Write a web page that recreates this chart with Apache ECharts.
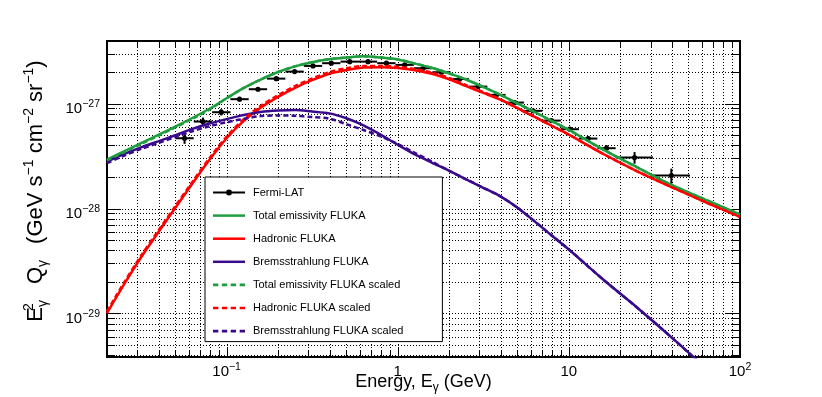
<!DOCTYPE html>
<html>
<head>
<meta charset="utf-8">
<script src="https://cdn.jsdelivr.net/npm/echarts@6/dist/echarts.min.js"></script>
<style>
  html, body { margin: 0; padding: 0; background: #fff; }
  #chart { width: 822px; height: 397px; }
</style>
</head>
<body>
<div id="chart"></div>
<script>
const FONT = '"Liberation Sans", Arial, Helvetica, sans-serif';

// energy grid of the model curves (GeV)
const energy = [0.02, 0.0251, 0.0316, 0.0398, 0.0501, 0.0631, 0.0794, 0.1, 0.126, 0.158,
  0.2, 0.251, 0.316, 0.398, 0.501, 0.631, 0.794, 1, 1.26, 1.58,
  2.0, 2.51, 3.16, 3.98, 5.01, 6.31, 7.94, 10, 15.8, 25.1, 39.8, 63.1, 100];

// E^2 Q (GeV s^-1 cm^-2 sr^-1)
const totalFluka = [2.931e-28, 3.499e-28, 4.198e-28, 5.023e-28, 6.039e-28, 7.295e-28, 8.933e-28, 1.125e-27, 1.41e-27, 1.694e-27,
  2.000e-27, 2.265e-27, 2.483e-27, 2.649e-27, 2.748e-27, 2.825e-27, 2.748e-27, 2.636e-27, 2.404e-27, 2.198e-27,
  1.936e-27, 1.698e-27, 1.439e-27, 1.213e-27, 1.005e-27, 8.318e-28, 6.823e-28, 5.610e-28, 3.664e-28, 2.466e-28, 1.679e-28, 1.211e-28, 8.79e-29];
const hadronicFluka = [1.009e-29, 1.884e-29, 3.420e-29, 5.902e-29, 1.014e-28, 1.730e-28, 2.911e-28, 4.677e-28, 6.839e-28, 9.141e-28,
  1.161e-27, 1.416e-27, 1.671e-27, 1.923e-27, 2.094e-27, 2.203e-27, 2.223e-27, 2.183e-27, 2.080e-27, 1.923e-27,
  1.706e-27, 1.469e-27, 1.265e-27, 1.089e-27, 9.036e-28, 7.482e-28, 6.152e-28, 5.058e-28, 3.327e-28, 2.265e-28, 1.603e-28, 1.148e-28, 8.318e-29];
const bremsFluka = [2.799e-28, 3.296e-28, 3.828e-28, 4.365e-28, 4.989e-28, 5.741e-28, 6.457e-28, 7.112e-28, 7.780e-28, 8.318e-28,
  8.590e-28, 8.710e-28, 8.414e-28, 8.072e-28, 7.244e-28, 6.194e-28, 5.058e-28, 4.055e-28, 3.281e-28, 2.742e-28,
  2.291e-28, 1.901e-28, 1.578e-28, 1.306e-28, 1.019e-28, 7.551e-29, 5.534e-29, 4.074e-29, 2.118e-29, 1.135e-29, 5.916e-30, 3.013e-30, 1.531e-30];
const totalScaled = [2.878e-28, 3.436e-28, 4.122e-28, 4.933e-28, 5.930e-28, 7.164e-28, 8.772e-28, 1.125e-27, 1.41e-27, 1.694e-27,
  2.000e-27, 2.265e-27, 2.483e-27, 2.649e-27, 2.748e-27, 2.825e-27, 2.748e-27, 2.636e-27, 2.404e-27, 2.198e-27,
  1.936e-27, 1.698e-27, 1.439e-27, 1.213e-27, 1.005e-27, 8.318e-28, 6.823e-28, 5.610e-28, 3.664e-28, 2.466e-28, 1.679e-28, 1.211e-28, 8.79e-29];
const hadronicScaled = [1.047e-29, 1.955e-29, 3.548e-29, 6.123e-29, 1.052e-28, 1.795e-28, 3.020e-28, 4.852e-28, 7.095e-28, 9.484e-28,
  1.205e-27, 1.469e-27, 1.734e-27, 1.995e-27, 2.173e-27, 2.286e-27, 2.285e-27, 2.244e-27, 2.138e-27, 1.977e-27,
  1.754e-27, 1.497e-27, 1.289e-27, 1.099e-27, 9.036e-28, 7.482e-28, 6.152e-28, 5.058e-28, 3.327e-28, 2.265e-28, 1.603e-28, 1.148e-28, 8.318e-29];
const bremsScaled = [2.704e-28, 3.184e-28, 3.698e-28, 4.207e-28, 4.797e-28, 5.458e-28, 6.081e-28, 6.653e-28, 7.161e-28, 7.6e-28,
  7.7e-28, 7.65e-28, 7.45e-28, 7.2e-28, 6.368e-28, 5.598e-28, 4.875e-28, 4.121e-28, 3.388e-28, 2.805e-28,
  2.291e-28, 1.901e-28, 1.578e-28, 1.306e-28, 1.019e-28, 7.551e-29, 5.534e-29, 4.074e-29, 2.118e-29, 1.135e-29, 5.916e-30, 3.013e-30, 1.531e-30];

// Fermi-LAT points: bin centre, bin edges, value, error
const fermiE = [0.0568, 0.0727, 0.0931, 0.119, 0.1525, 0.195, 0.2497, 0.3197, 0.409, 0.524, 0.670, 0.858, 1.098,
  1.406, 1.80, 2.30, 2.95, 3.77, 4.83, 6.18, 7.91, 10.13, 12.97, 16.6, 24.2, 39.7];
const fermiElo = [0.0502, 0.0643, 0.0823, 0.1052, 0.1348, 0.1724, 0.2208, 0.2827, 0.3616, 0.4633, 0.5924, 0.7586, 0.9708,
  1.243, 1.592, 2.034, 2.608, 3.333, 4.271, 5.464, 6.994, 8.957, 11.47, 14.68, 18.8, 31.0];
const fermiEhi = [0.0642, 0.0822, 0.1053, 0.1346, 0.1725, 0.2205, 0.2824, 0.3616, 0.4626, 0.5926, 0.7578, 0.9704, 1.242,
  1.590, 2.036, 2.601, 3.336, 4.264, 5.463, 6.990, 8.946, 11.46, 14.67, 18.77, 31.0, 51.0];
const fermiQ = [4.677e-28, 6.745e-28, 8.279e-28, 1.102e-27, 1.371e-27, 1.730e-27, 2.018e-27, 2.286e-27, 2.427e-27, 2.512e-27,
  2.512e-27, 2.427e-27, 2.339e-27, 2.173e-27, 1.991e-27, 1.718e-27, 1.452e-27, 1.211e-27, 1.023e-27, 8.531e-28,
  6.887e-28, 5.702e-28, 4.645e-28, 3.758e-28, 3.062e-28, 2.061e-28];
const fermiErr = [0.54e-28, 0.62e-28, 0.56e-28, 0.50e-28, 0.45e-28, 0.57e-28, 0.67e-28, 0.75e-28, 0.80e-28, 0.83e-28,
  0.83e-28, 0.80e-28, 0.77e-28, 0.72e-28, 0.66e-28, 0.57e-28, 0.48e-28, 0.40e-28, 0.34e-28, 0.28e-28,
  0.23e-28, 0.26e-28, 0.26e-28, 0.26e-28, 0.39e-28, 0.34e-28];

// grid / tick positions
const xGrid = [0.03, 0.04, 0.05, 0.06, 0.07, 0.08, 0.09,
  0.1, 0.2, 0.3, 0.4, 0.5, 0.6, 0.7, 0.8, 0.9,
  1, 2, 3, 4, 5, 6, 7, 8, 9,
  10, 20, 30, 40, 50, 60, 70, 80, 90];
const yGrid = [4e-30, 5e-30, 6e-30, 7e-30, 8e-30, 9e-30,
  1e-29, 2e-29, 3e-29, 4e-29, 5e-29, 6e-29, 7e-29, 8e-29, 9e-29,
  1e-28, 2e-28, 3e-28, 4e-28, 5e-28, 6e-28, 7e-28, 8e-28, 9e-28,
  1e-27, 2e-27, 3e-27];

const X_MIN = 0.02, X_MAX = 100, Y_MIN = 3.85e-30, Y_MAX = 3.95e-27;

function isDecade(v) {
    let p = Math.log10(v);
    return Math.abs(p - Math.round(p)) < 1e-6;
}

function powLabel(v, oneAndTen) {
    if (!(v > 0)) return '';
    let p = Math.log10(v), n = Math.round(p);
    if (!isFinite(p) || Math.abs(p - n) > 1e-6) return '';
    if (oneAndTen && n === 0) return '{b|1}';
    if (oneAndTen && n === 1) return '{b|10}';
    return '{b|10}{s|' + (n < 0 ? '\u2212' + (-n) : n) + '}';
}

const labelRich = {
    b: { fontSize: 15, lineHeight: 20, color: '#000', fontFamily: FONT, verticalAlign: 'middle' },
    s: { fontSize: 10.5, lineHeight: 11, color: '#000', fontFamily: FONT, verticalAlign: 'top' }
};

function renderXGrid(params, api) {
    let cs = params.coordSys;
    let x = Math.round(api.coord([api.value(0), Y_MIN])[0]) + 0.5;
    let len = isDecade(api.value(0)) ? 10 : 6;
    let top = cs.y, bottom = cs.y + cs.height;
    return {
        type: 'group',
        children: [
            { type: 'line', shape: { x1: x, y1: top, x2: x, y2: bottom }, style: { stroke: '#000', lineWidth: 1, lineDash: [1, 2] } },
            { type: 'line', shape: { x1: x, y1: bottom, x2: x, y2: bottom - len }, style: { stroke: '#000', lineWidth: 1 } },
            { type: 'line', shape: { x1: x, y1: top, x2: x, y2: top + len }, style: { stroke: '#000', lineWidth: 1 } }
        ]
    };
}

function renderYGrid(params, api) {
    let cs = params.coordSys;
    let y = Math.round(api.coord([X_MIN, api.value(1)])[1]) + 0.5;
    let len = isDecade(api.value(1)) ? 14 : 8;
    let left = cs.x, right = cs.x + cs.width;
    return {
        type: 'group',
        children: [
            { type: 'line', shape: { x1: left, y1: y, x2: right, y2: y }, style: { stroke: '#000', lineWidth: 1, lineDash: [1, 2] } },
            { type: 'line', shape: { x1: left, y1: y, x2: left + len, y2: y }, style: { stroke: '#000', lineWidth: 1 } },
            { type: 'line', shape: { x1: right, y1: y, x2: right - len, y2: y }, style: { stroke: '#000', lineWidth: 1 } }
        ]
    };
}

function renderFermi(params, api) {
    let e = api.value(0), q = api.value(1), err = api.value(4);
    let c = api.coord([e, q]);
    let lo = api.coord([api.value(2), q]);
    let hi = api.coord([api.value(3), q]);
    let qlo = api.coord([e, q - err]);
    let qhi = api.coord([e, q + err]);
    let st = { stroke: '#000', lineWidth: 2 };
    return {
        type: 'group',
        children: [
            { type: 'line', shape: { x1: lo[0], y1: c[1], x2: hi[0], y2: c[1] }, style: st },
            { type: 'line', shape: { x1: c[0], y1: qlo[1], x2: c[0], y2: qhi[1] }, style: st },
            { type: 'circle', shape: { cx: c[0], cy: c[1], r: 2.6 }, style: { fill: '#000' } }
        ]
    };
}

function curve(name, vals, color, dashed) {
    return {
        name: name,
        type: 'line',
        data: energy.map((e, i) => [e, vals[i]]),
        showSymbol: false,
        symbol: 'none',
        smooth: 0.3,
        clip: true,
        silent: true,
        z: dashed ? 4 : 3,
        itemStyle: { color: color },
        lineStyle: { color: color, width: 2.5, type: dashed ? [5, 3] : 'solid' }
    };
}

const GREEN = '#1f9e3f', RED = '#ff0000', PURPLE = '#3a0a8c';
const fermiIcon = 'path://M0,2L13,2L13,4L0,4Z M19,2L32,2L32,4L19,4Z M13,3A3,3 0 1,1 19,3A3,3 0 1,1 13,3Z';
const solidIcon = 'path://M0,0L32,0L32,2.5L0,2.5Z';
const dashIcon = 'path://M0,0h5v2.5h-5Z M8.3,0h5v2.5h-5Z M16.6,0h5v2.5h-5Z M25,0h5v2.5h-5Z';

let chart = echarts.init(document.getElementById('chart'), null, { renderer: 'canvas' });
let options = {
    animation: false,
    backgroundColor: '#fff',
    textStyle: { fontFamily: FONT },
    grid: {
        left: 107, right: 82, top: 41, bottom: 40,
        show: true, borderColor: '#000', borderWidth: 2,
        outerBoundsMode: 'none', containLabel: false
    },
    legend: {
        orient: 'vertical',
        left: 205, top: 177,
        padding: [10, 39, 5, 8],
        itemWidth: 32, itemHeight: 14, itemGap: 12.1,
        backgroundColor: '#fff', borderColor: '#000', borderWidth: 1,
        selectedMode: false,
        textStyle: { fontSize: 11, color: '#000', fontFamily: FONT, padding: [0, 0, 0, 3] },
        data: [
            { name: 'Fermi-LAT', icon: fermiIcon, itemStyle: { color: '#000' } },
            { name: 'Total emissivity FLUKA', icon: solidIcon, itemStyle: { color: GREEN } },
            { name: 'Hadronic FLUKA', icon: solidIcon, itemStyle: { color: RED } },
            { name: 'Bremsstrahlung FLUKA', icon: solidIcon, itemStyle: { color: PURPLE } },
            { name: 'Total emissivity FLUKA scaled', icon: dashIcon, itemStyle: { color: GREEN } },
            { name: 'Hadronic FLUKA scaled', icon: dashIcon, itemStyle: { color: RED } },
            { name: 'Bremsstrahlung FLUKA scaled', icon: dashIcon, itemStyle: { color: PURPLE } }
        ]
    },
    xAxis: {
        type: 'log',
        logBase: 10,
        min: X_MIN, max: X_MAX,
        axisLine: { show: false },
        axisTick: { show: false },
        splitLine: { show: false },
        axisLabel: {
            margin: 5,
            formatter: (v) => powLabel(v, true),
            rich: labelRich
        },
        name: 'Energy, E{g|\u03b3} (GeV)',
        nameLocation: 'middle',
        nameGap: 13,
        nameMoveOverlap: false,
        nameTextStyle: {
            fontSize: 18, color: '#000', fontFamily: FONT, lineHeight: 24,
            rich: { g: { fontSize: 12, lineHeight: 12, color: '#000', fontFamily: FONT, verticalAlign: 'bottom' } }
        }
    },
    yAxis: {
        type: 'log',
        logBase: 10,
        min: Y_MIN, max: Y_MAX,
        axisLine: { show: false },
        axisTick: { show: false },
        splitLine: { show: false },
        axisLabel: {
            margin: 7,
            padding: [10, 0, 0, 0],
            formatter: (v) => powLabel(v, false),
            rich: labelRich
        },
        name: '{e|E}{p|2}{q|\u03b3}{w|\u00a0}{e|Q}{q|\u03b3}{w|\u00a0}{e|(GeV s}{u|\u22121}{e| cm}{u|\u22122}{e| sr}{u|\u22121}{e|)}',
        nameLocation: 'middle',
        nameRotate: 90,
        nameGap: 57,
        nameMoveOverlap: false,
        nameTextStyle: {
            color: '#000', fontFamily: FONT,
            padding: [0, 0, 0, 16],
            rich: {
                e: { fontSize: 22, lineHeight: 28, color: '#000', fontFamily: FONT, verticalAlign: 'middle' },
                p: { fontSize: 14, lineHeight: 14, color: '#000', fontFamily: FONT, verticalAlign: 'top', width: 0.01 },
                q: { fontSize: 14, lineHeight: 14, color: '#000', fontFamily: FONT, verticalAlign: 'bottom' },
                u: { fontSize: 14, lineHeight: 14, color: '#000', fontFamily: FONT, verticalAlign: 'top' },
                w: { fontSize: 22, lineHeight: 28, width: 16, fontFamily: FONT }
            }
        }
    },
    series: [
        {
            type: 'custom', name: 'xgrid', silent: true, z: 1, clip: false,
            renderItem: renderXGrid,
            data: xGrid.map(v => [v, Y_MIN])
        },
        {
            type: 'custom', name: 'ygrid', silent: true, z: 1, clip: false,
            renderItem: renderYGrid,
            data: yGrid.map(v => [X_MIN, v])
        },
        {
            type: 'custom', name: 'Fermi-LAT', silent: true, z: 2,
            renderItem: renderFermi,
            itemStyle: { color: '#000' },
            encode: { x: 0, y: 1 },
            data: fermiE.map((e, i) => [e, fermiQ[i], fermiElo[i], fermiEhi[i], fermiErr[i]])
        },
        curve('Total emissivity FLUKA', totalFluka, GREEN, false),
        curve('Hadronic FLUKA', hadronicFluka, RED, false),
        curve('Bremsstrahlung FLUKA', bremsFluka, PURPLE, false),
        curve('Total emissivity FLUKA scaled', totalScaled, GREEN, true),
        curve('Hadronic FLUKA scaled', hadronicScaled, RED, true),
        curve('Bremsstrahlung FLUKA scaled', bremsScaled, PURPLE, true)
    ]
}
chart.setOption(options)
</script>
</body>
</html>
